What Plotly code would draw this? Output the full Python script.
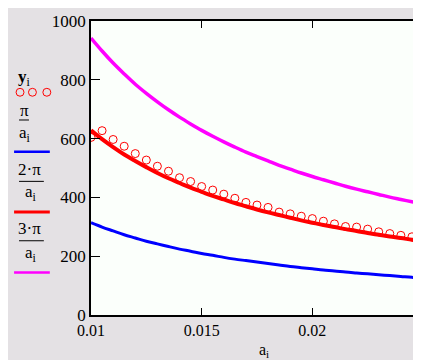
import plotly.graph_objects as go

# ---- data ----
a_vals = [0.0100, 0.0105, 0.0110, 0.0115, 0.0120, 0.0125, 0.0130, 0.0135, 0.0140, 0.0145,
          0.0150, 0.0155, 0.0160, 0.0165, 0.0170, 0.0175, 0.0180, 0.0185, 0.0190, 0.0195,
          0.0200, 0.0205, 0.0210, 0.0215, 0.0220, 0.0225, 0.0230, 0.0235, 0.0240, 0.0245,
          0.0250]
y_meas = [604, 627, 597, 574, 549, 527, 506, 489, 467, 454,
          437, 425, 411, 397, 383, 374, 366, 350, 344, 336,
          328, 319, 310, 301, 299, 292, 283, 277, 271, 266,
          260]
pi_over_a = [314, 299, 286, 273, 262, 251, 242, 233, 224, 217,
             209, 203, 196, 190, 185, 180, 175, 170, 165, 161,
             157, 153, 150, 146, 143, 140, 137, 134, 131, 128,
             126]
two_pi_over_a = [628, 598, 571, 546, 524, 503, 483, 465, 449, 433,
                 419, 405, 393, 381, 370, 359, 349, 340, 331, 322,
                 314, 306, 299, 292, 286, 279, 273, 267, 262, 256,
                 251]
three_pi_over_a = [942, 898, 857, 820, 785, 754, 725, 698, 673, 650,
                   628, 608, 589, 571, 554, 539, 524, 509, 496, 483,
                   471, 460, 449, 438, 428, 419, 410, 401, 393, 385,
                   377]
x_tickvals = [0.01, 0.015, 0.02]
x_ticktext = ["0.01", "0.015", "0.02"]
y_tickvals = [0, 200, 400, 600, 800, 1000]

# ---- layout geometry ----
W, H = 421, 360
L, R, T, B = 82.5, 4, 10, 53
PW, PH = W - L - R, H - T - B

def px(x):
    return (x - L) / PW

def py(y):
    return (H - B - y) / PH

SERIF = "Liberation Serif"
BG = "#e4e1e4"

fig = go.Figure()
fig.add_trace(go.Scatter(x=a_vals, y=y_meas, mode="markers",
                         marker=dict(symbol="circle-open", size=8, color="#ff0000",
                                     line=dict(width=1, color="#ff0000")),
                         cliponaxis=True, showlegend=False))
fig.add_trace(go.Scatter(x=a_vals, y=pi_over_a, mode="lines",
                         line=dict(color="#0000ff", width=3, shape="spline"), showlegend=False))
fig.add_trace(go.Scatter(x=a_vals, y=two_pi_over_a, mode="lines",
                         line=dict(color="#ff0000", width=4, shape="spline"), showlegend=False))
fig.add_trace(go.Scatter(x=a_vals, y=three_pi_over_a, mode="lines",
                         line=dict(color="#ff00ff", width=3.5, shape="spline"), showlegend=False))

shapes = []
annotations = []

def txt(x, y, s, size=16):
    annotations.append(dict(x=px(x), y=py(y), xref="paper", yref="paper", text=s,
                            showarrow=False, xanchor="center", yanchor="middle",
                            font=dict(family=SERIF, size=size, color="black")))

def hline(x0, x1, y, color="black", width=1):
    shapes.append(dict(type="line", xref="paper", yref="paper",
                       x0=px(x0), x1=px(x1), y0=py(y), y1=py(y),
                       line=dict(color=color, width=width)))

# legend block on the left
txt(15, 68, "<b>y</b><sub>i</sub>", 17)
for cx in [11, 23.5, 38]:
    shapes.append(dict(type="circle", xref="paper", yref="paper",
                       x0=px(cx - 4), x1=px(cx + 4), y0=py(78), y1=py(86),
                       line=dict(color="#ff0000", width=1)))
txt(16, 100, "π", 17)
hline(10, 20, 110)
txt(16, 124, "a<sub>i</sub>", 17)
hline(5, 41, 142, "#0000ff", 2.5)
txt(21, 160, "2·π", 17)
hline(10, 35, 172)
txt(22, 184, "a<sub>i</sub>", 17)
hline(5, 41, 203, "#ff0000", 3)
txt(21, 220, "3·π", 17)
hline(10, 35, 232)
txt(22, 245, "a<sub>i</sub>", 17)
hline(5, 41, 264, "#ff00ff", 2.5)

# x axis title
txt(257, 343, "a<sub>i</sub>", 16)

fig.update_layout(
    width=W, height=H,
    margin=dict(l=L, r=R, t=T, b=B, pad=0),
    paper_bgcolor=BG, plot_bgcolor="#fbfffb",
    shapes=shapes, annotations=annotations,
    font=dict(family=SERIF, size=15, color="black"),
)
fig.update_xaxes(range=[0.01, 0.025], tickvals=x_tickvals, ticktext=x_ticktext,
                 ticks="inside", ticklen=7, tickcolor="black", tickwidth=1,
                 showline=True, linecolor="black", linewidth=1.5, mirror="ticks",
                 showgrid=False, zeroline=False,
                 tickfont=dict(family=SERIF, size=16, color="black"))
fig.update_yaxes(range=[0, 1000], tickvals=y_tickvals,
                 ticks="inside", ticklen=9, tickcolor="black", tickwidth=1,
                 showline=True, linecolor="black", linewidth=1.5, mirror="ticks",
                 showgrid=False, zeroline=False,
                 tickfont=dict(family=SERIF, size=17, color="black"))

fig.write_html("out.html")
